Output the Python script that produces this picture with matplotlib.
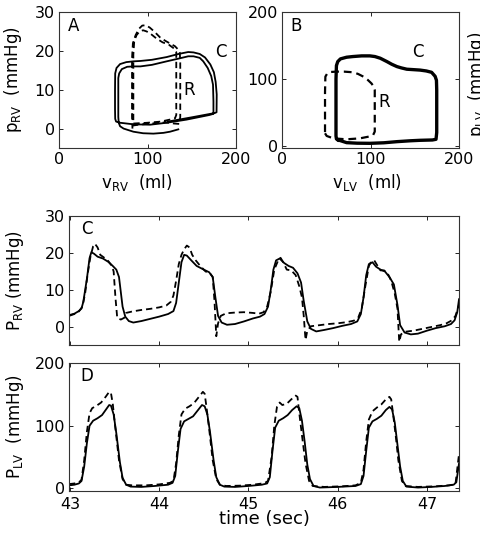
import matplotlib
matplotlib.use("Agg")
import matplotlib.pyplot as plt

plt.rcParams['font.family'] = ['DejaVu Sans']
plt.rcParams['mathtext.fontset'] = 'dejavusans'
plt.rcParams['font.size'] = 12
plt.rcParams['xtick.labelsize'] = 11.5
plt.rcParams['ytick.labelsize'] = 11.5

# ---------------- Panel A: RV pressure-volume loops ----------------
a_solid_v = [123, 150, 176, 178, 178.2, 177, 175, 171, 165, 159, 152, 146, 135, 121.6, 105, 92, 84, 76, 69, 65,
             63.5, 63.3, 63.3, 63.5, 64.5, 69, 84, 103, 121.6, 144, 170, 174.5, 174.5, 174, 172, 168, 163, 159,
             152, 146, 135, 121.6, 105, 92, 84, 77, 71, 68, 67, 67, 67, 67.5, 69, 73, 84, 95, 106.6, 118, 125.5, 134.8]
a_solid_p = [1.8, 2.9, 4.0, 4.2, 8.8, 12, 14.5, 16.5, 18.3, 19.2, 19.6, 19.7, 19.2, 18.4, 17.7, 17.4, 17.3, 17.1, 16.6, 15.6,
             14.2, 10, 5, 2.5, 1.8, 1.5, 1.1, 1.0, 1.5, 2.3, 3.5, 3.8, 7, 11.3, 13.5, 15.6, 17.3, 18.2,
             18.6, 18.6, 18.0, 17.3, 16.4, 16.0, 16.0, 15.9, 15.3, 14.2, 13.0, 8, 3, 1.5, 0.6, 0.0, -0.8, -1.2, -1.3, -1.1, -0.8, -0.2]
a_dash_v = [84, 100, 115, 125, 131, 132.5, 132.5, 132.5, 132.5, 130, 124, 117, 110, 104, 99, 95, 91, 87.5, 85, 84, 84, 84, 84,
            90, 105, 120, 130, 136, 137, 137, 137, 136.5, 134.8, 131, 127, 120, 114, 108, 102.5, 98, 94, 90, 86.5, 83.5,
            82.5, 82.5, 82.5, 83]
a_dash_p = [1.3, 1.5, 1.8, 2.3, 2.6, 3.5, 10, 17, 19.7, 20.6, 21.6, 22.2, 23.2, 24.3, 25.0, 25.3, 25.0, 24.0, 22.5, 19, 10, 3, 0.8,
            1.0, 1.3, 1.6, 1.3, 1.2, 3, 10, 17, 19.5, 20.3, 21.2, 21.7, 22.6, 23.5, 24.9, 26.0, 26.6, 26.5, 25.6, 24.0, 22.0,
            18, 10, 3, 0.0]

# ---------------- Panel B: LV pressure-volume loops ----------------
b_solid_v = [63.6, 73, 85, 99.5, 115, 129.9, 145, 156, 170, 174, 174.8, 174.8, 174.8, 174.5, 173, 169, 163, 156, 148, 141,
             135, 129.9, 124, 118.5, 111, 105, 99.3, 90, 80, 73, 66, 63, 61.5, 61, 61, 61, 61.5, 63.6]
b_solid_p = [9, 5, 4.2, 4.0, 4.8, 6.5, 7.8, 8.5, 9.0, 10, 20, 50, 83.6, 98, 104, 110, 112, 113.3, 114, 114.6,
             116.5, 118.5, 122, 126, 131, 133.5, 134.5, 134.5, 133.5, 132.5, 130, 126, 120, 100, 50, 15, 10.5, 9]
b_dash_v = [48.6, 50.5, 58, 73, 88, 98, 103, 104.8, 104.8, 104.8, 103.5, 101, 97, 92, 86, 80.6, 70, 62, 55, 51, 49, 48.6,
            48.6, 48.6]
b_dash_p = [19, 15, 11.4, 10, 11.4, 14, 16.5, 21.5, 50, 83.6, 89, 93.5, 98.5, 103.5, 107.5, 110, 111, 111, 110.5, 108, 103.5,
            80, 40, 19]

# ---------------- Panel C: RV pressure vs time ----------------
c_model_t = [42.99, 43.05, 43.10, 43.13, 43.15, 43.19, 43.22, 43.24, 43.27, 43.31, 43.37, 43.43, 43.48, 43.52, 43.55,
             43.57, 43.59, 43.62, 43.66, 43.71, 43.80, 43.90, 44.00, 44.10, 44.16, 44.19, 44.22, 44.25, 44.28, 44.31,
             44.36, 44.42, 44.50, 44.56, 44.60, 44.63, 44.66, 44.70, 44.76, 44.85, 44.95, 45.05, 45.13, 45.18, 45.22,
             45.25, 45.28, 45.31, 45.35, 45.40, 45.45, 45.50, 45.55, 45.59, 45.62, 45.66, 45.70, 45.76, 45.85, 45.95,
             46.05, 46.15, 46.22, 46.26, 46.29, 46.32, 46.35, 46.39, 46.43, 46.48, 46.53, 46.58, 46.63, 46.67, 46.70,
             46.75, 46.82, 46.90, 47.00, 47.10, 47.20, 47.27, 47.31, 47.34, 47.36]
c_model_p = [3.2, 3.6, 4.3, 5.0, 6.8, 13.0, 18.6, 20.2, 19.8, 19.0, 18.5, 17.6, 16.5, 15.5, 13.5,
             9.5, 5.5, 2.8, 1.6, 1.2, 1.6, 2.2, 2.8, 3.5, 4.3, 6.5, 12.0, 17.5, 19.5, 19.3,
             18.0, 16.5, 15.5, 14.8, 13.5, 8.0, 3.0, 1.2, 0.6, 0.8, 1.5, 2.3, 2.8, 3.5, 5.5,
             10.0, 15.5, 18.0, 18.5, 17.3, 16.5, 16.0, 14.5, 12.0, 7.0, 1.5, -0.5, -1.2, -0.8, -0.3,
             0.3, 0.8, 1.5, 3.5, 8.0, 14.0, 17.0, 17.5, 16.3, 15.5, 15.0, 13.5, 11.5, 6.0, 0.5,
             -1.5, -2.0, -1.8, -1.0, -0.3, 0.2, 0.8, 1.8, 4.0, 7.5]
c_data_t = [42.99, 43.05, 43.10, 43.14, 43.17, 43.20, 43.23, 43.26, 43.28, 43.31, 43.34, 43.38, 43.43, 43.47, 43.49,
            43.51, 43.53, 43.57, 43.61, 43.63, 43.70, 43.80, 43.90, 44.00, 44.08, 44.13, 44.16, 44.19, 44.22, 44.25,
            44.28, 44.31, 44.34, 44.37, 44.41, 44.46, 44.52, 44.57, 44.60, 44.62, 44.64, 44.66, 44.69, 44.75, 44.85,
            44.95, 45.05, 45.12, 45.17, 45.21, 45.25, 45.29, 45.33, 45.36, 45.39, 45.43, 45.48, 45.53, 45.57, 45.60,
            45.62, 45.64, 45.66, 45.70, 45.80, 45.90, 46.00, 46.10, 46.18, 46.23, 46.27, 46.31, 46.35, 46.38, 46.41,
            46.44, 46.48, 46.52, 46.56, 46.60, 46.64, 46.67, 46.69, 46.71, 46.75, 46.85, 46.95, 47.05, 47.15, 47.22,
            47.28, 47.32, 47.36]
c_data_p = [3.0, 3.5, 4.2, 5.5, 9.0, 14.5, 19.0, 21.8, 22.5, 21.5, 19.5, 18.8, 17.8, 16.5, 15.0,
            8.0, 2.5, 2.0, 2.5, 3.8, 4.2, 4.6, 4.9, 5.3, 5.8, 6.8, 8.5, 12.5, 17.0, 19.5,
            21.0, 22.0, 21.5, 19.5, 18.0, 16.5, 15.0, 14.5, 13.5, 7.0, -2.5, 1.0, 3.0, 3.7, 3.9,
            4.0, 3.8, 3.6, 4.0, 5.5, 9.5, 15.5, 17.8, 18.7, 17.5, 15.5, 15.3, 14.0, 11.0, 8.0,
            3.0, -3.5, -1.0, 0.2, 0.5, 0.8, 1.0, 1.3, 1.7, 2.5, 5.0, 11.0, 16.5, 17.8, 18.0,
            16.8, 15.3, 15.3, 14.5, 12.5, 9.0, 5.0, -4.0, -2.0, -1.3, -1.0, -0.5, 0.0, 0.5, 1.0,
            1.8, 3.0, 6.0]

# ---------------- Panel D: LV pressure vs time ----------------
d_model_t = [42.99, 43.05, 43.10, 43.13, 43.16, 43.19, 43.22, 43.26, 43.31, 43.36, 43.40, 43.44, 43.46, 43.49, 43.52,
             43.56, 43.59, 43.63, 43.68, 43.80, 43.95, 44.10, 44.15, 44.18, 44.21, 44.24, 44.28, 44.33, 44.38, 44.43,
             44.48, 44.51, 44.54, 44.57, 44.61, 44.64, 44.68, 44.73, 44.85, 45.00, 45.15, 45.21, 45.24, 45.27, 45.30,
             45.34, 45.39, 45.44, 45.49, 45.54, 45.57, 45.60, 45.63, 45.66, 45.69, 45.73, 45.80, 46.00, 46.20, 46.26,
             46.29, 46.32, 46.35, 46.39, 46.44, 46.49, 46.54, 46.58, 46.61, 46.64, 46.67, 46.70, 46.73, 46.77, 46.90,
             47.05, 47.20, 47.30, 47.33, 47.36]
d_model_p = [5, 6, 8, 12, 35, 72, 100, 108, 112, 117, 125, 133, 132, 118, 88,
             42, 17, 6, 3, 2.5, 4, 6, 9, 20, 60, 95, 107, 111, 115, 124,
             133, 131, 118, 90, 45, 18, 6, 3, 2.5, 4, 6, 8, 18, 60, 97,
             108, 112, 117, 125, 131, 128, 108, 75, 38, 15, 4, 1.5, 2.5, 4, 7,
             20, 60, 97, 107, 111, 116, 125, 130, 126, 105, 70, 35, 12, 3, 1.5,
             2.5, 4, 6, 10, 40]
d_data_t = [42.99, 43.05, 43.10, 43.13, 43.16, 43.19, 43.22, 43.25, 43.30, 43.35, 43.40, 43.44, 43.46, 43.48, 43.51,
            43.55, 43.59, 43.63, 43.70, 43.85, 44.00, 44.12, 44.16, 44.19, 44.22, 44.25, 44.29, 44.34, 44.39, 44.44,
            44.49, 44.51, 44.53, 44.56, 44.60, 44.64, 44.68, 44.75, 44.90, 45.05, 45.18, 45.22, 45.26, 45.29, 45.32,
            45.35, 45.38, 45.43, 45.48, 45.53, 45.55, 45.57, 45.60, 45.64, 45.68, 45.72, 45.85, 46.05, 46.20, 46.26,
            46.29, 46.32, 46.35, 46.39, 46.44, 46.49, 46.54, 46.58, 46.60, 46.62, 46.65, 46.68, 46.72, 46.76, 46.90,
            47.10, 47.25, 47.32, 47.36]
d_data_p = [7, 8, 9.5, 14, 45, 90, 120, 128, 132, 137, 146, 154, 152, 135, 95,
            45, 15, 6, 5, 5, 6.5, 9, 12, 40, 85, 118, 127, 131, 136, 145,
            154, 151, 130, 95, 45, 15, 6, 4, 4.5, 6, 8.5, 12, 50, 100, 130,
            137, 133, 135, 142, 148, 146, 120, 85, 40, 12, 4, 2.5, 3.5, 5, 9,
            30, 75, 110, 123, 129, 134, 142, 146, 142, 120, 85, 45, 12, 4, 2.5,
            3.5, 5, 7, 55]

fig = plt.figure(figsize=(4.8, 5.33), dpi=100)

def style(ax):
    ax.tick_params(direction='in', length=3, width=0.6, top=True, right=True, pad=3, colors='black')
    for s in ax.spines.values():
        s.set_linewidth(0.8)
        s.set_color('#333333')

lw = 1.3
dash = (3.5, 2.2)

# Panel A
axA = fig.add_axes([0.1229, 0.7223, 0.3688, 0.2552])
axA.plot(a_solid_v, a_solid_p, color='black', lw=1.3)
axA.plot(a_dash_v, a_dash_p, color='black', lw=1.3, linestyle=(0, dash))
axA.set_xlim(0, 200)
axA.set_ylim(-5, 30)
axA.set_xticks([0, 100, 200])
axA.set_yticks([0, 10, 20, 30])
axA.text(0.05, 0.9, 'A', transform=axA.transAxes, ha='left', va='center')
axA.text(183, 19.8, 'C', ha='center', va='center')
axA.text(140, 9.8, 'R', ha='left', va='center')
axA.set_xlabel(r'v$_{\mathrm{RV}}$  (ml)')
axA.xaxis.set_label_coords(0.44, -0.18)
axA.set_ylabel(r'p$_{\mathrm{RV}}$  (mmHg)')
axA.yaxis.set_label_coords(-0.20, 0.5)
style(axA)

# Panel B
axB = fig.add_axes([0.5875, 0.7223, 0.3688, 0.2552])
axB.plot(b_solid_v, b_solid_p, color='black', lw=2.4)
axB.plot(b_dash_v, b_dash_p, color='black', lw=1.6, linestyle=(0, (3.5, 2.2)))
axB.set_xlim(0, 200)
axB.set_ylim(-3, 200)
axB.set_xticks([0, 100, 200])
axB.set_yticks([0, 100, 200])
axB.text(0.05, 0.9, 'B', transform=axB.transAxes, ha='left', va='center')
axB.text(153, 140, 'C', ha='center', va='center')
axB.text(115, 66, 'R', ha='center', va='center')
axB.set_xlabel(r'v$_{\mathrm{LV}}$  (ml)')
axB.xaxis.set_label_coords(0.48, -0.18)
style(axB)

# label of a third panel, cut off by the right edge as in the source figure
fig.text(466 / 480, 1 - 84 / 533, r'p$_{\mathrm{LV}}$  (mmHg)', rotation=90, ha='left', va='center')

# Panel C
axC = fig.add_axes([0.1438, 0.3518, 0.8125, 0.2430])
axC.plot(c_model_t, c_model_p, color='black', lw=lw)
axC.plot(c_data_t, c_data_p, color='black', lw=lw, linestyle=(0, dash))
axC.set_xlim(42.99, 47.36)
axC.set_ylim(-5, 30)
axC.set_xticks([43, 44, 45, 46, 47])
axC.set_xticklabels([])
axC.set_yticks([0, 10, 20, 30])
axC.text(0.03, 0.9, 'C', transform=axC.transAxes, ha='left', va='center')
axC.set_ylabel(r'P$_{\mathrm{RV}}$ (mmHg)')
axC.yaxis.set_label_coords(-0.11, 0.5)
style(axC)

# Panel D
axD = fig.add_axes([0.1438, 0.0788, 0.8125, 0.2402])
axD.plot(d_model_t, d_model_p, color='black', lw=lw)
axD.plot(d_data_t, d_data_p, color='black', lw=lw, linestyle=(0, dash))
axD.set_xlim(42.99, 47.36)
axD.set_ylim(-4, 200)
axD.set_xticks([43, 44, 45, 46, 47])
axD.set_yticks([0, 100, 200])
axD.tick_params(axis='x', pad=4)
axD.text(0.03, 0.9, 'D', transform=axD.transAxes, ha='left', va='center')
axD.set_ylabel(r'P$_{\mathrm{LV}}$  (mmHg)')
axD.yaxis.set_label_coords(-0.11, 0.5)
axD.set_xlabel('time (sec)', labelpad=-1, fontsize=13)
style(axD)
axD.tick_params(axis='x', pad=4)

fig.savefig('out.png', dpi=100)
